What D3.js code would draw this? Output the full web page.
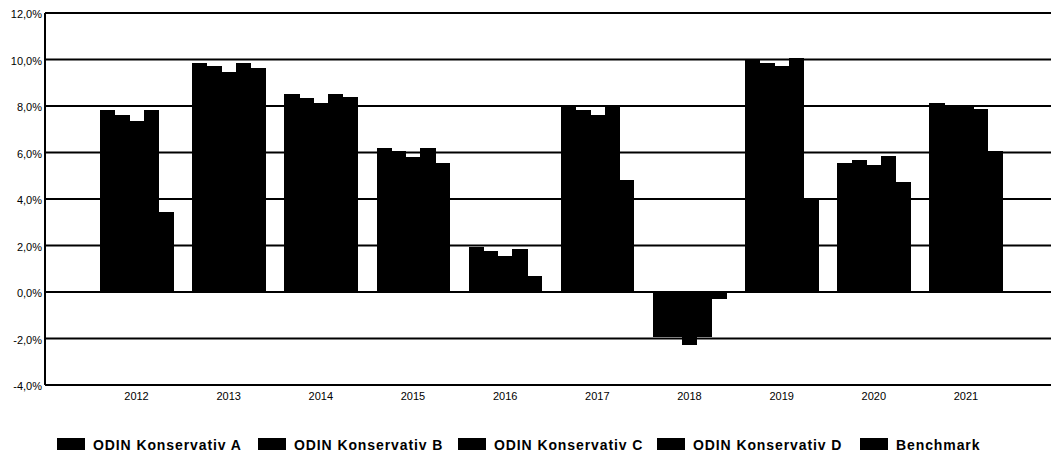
<html>
<head>
<meta charset="utf-8">
<script src="https://cdn.jsdelivr.net/npm/d3@7"></script>
<style>
  body { margin: 0; background: #fff; }
  svg { display: block; }
  text { font-family: "Liberation Sans", Arial, sans-serif; fill: #000; }
</style>
</head>
<body>
<svg id="chart" width="1051" height="453"></svg>
<script>
const years = ["2012", "2013", "2014", "2015", "2016", "2017", "2018", "2019", "2020", "2021"]
const seriesNames = ["ODIN Konservativ A", "ODIN Konservativ B", "ODIN Konservativ C", "ODIN Konservativ D", "Benchmark"]
const konsA = [7.83, 9.86, 8.52, 6.21, 1.95, 8.00, -1.92, 10.00, 5.53, 8.11]
const konsB = [7.61, 9.73, 8.33, 6.08, 1.75, 7.83, -1.95, 9.86, 5.66, 8.01]
const konsC = [7.37, 9.48, 8.13, 5.81, 1.53, 7.63, -2.28, 9.72, 5.45, 8.03]
const konsD = [7.83, 9.86, 8.52, 6.21, 1.86, 7.97, -1.92, 10.06, 5.86, 7.89]
const bench = [3.43, 9.65, 8.37, 5.53, 0.70, 4.83, -0.31, 3.99, 4.73, 6.08]
const yTicks = [-4, -2, 0, 2, 4, 6, 8, 10, 12]

const allSeries = [konsA, konsB, konsC, konsD, bench]

const svg = d3.select("#chart")
const LEFT = 45, RIGHT = 1057.5, TOP = 13, BOTTOM = 385

const x = d3.scaleBand()
    .domain(years)
    .range([LEFT, RIGHT])
    .paddingInner(0.208)
    .paddingOuter(0.597)
const xSub = d3.scaleBand()
    .domain(d3.range(seriesNames.length))
    .range([0, x.bandwidth()])
const y = d3.scaleLinear()
    .domain([-4, 12])
    .range([BOTTOM, TOP])

// gridlines
svg.append("g")
    .selectAll("line")
    .data(yTicks)
    .join("line")
    .attr("x1", LEFT)
    .attr("x2", RIGHT)
    .attr("y1", d => y(d))
    .attr("y2", d => y(d))
    .attr("stroke", "#000")
    .attr("stroke-width", 2)

// bars - no outline so neighbours merge into one block
const bars = []
years.forEach((yr, i) => {
    allSeries.forEach((s, j) => bars.push({year: yr, k: j, v: s[i]}))
})
svg.append("g")
    .attr("shape-rendering", "crispEdges")
    .selectAll("rect")
    .data(bars)
    .join("rect")
    .attr("x", d => x(d.year) + xSub(d.k))
    .attr("width", xSub.bandwidth() + 0.6)
    .attr("y", d => y(Math.max(0, d.v)))
    .attr("height", d => Math.abs(y(d.v) - y(0)))
    .attr("fill", "#000")

// left axis line
svg.append("line")
    .attr("x1", LEFT).attr("x2", LEFT)
    .attr("y1", TOP).attr("y2", BOTTOM)
    .attr("stroke", "#000")
    .attr("stroke-width", 2)

// y labels
svg.append("g")
    .selectAll("text")
    .data(yTicks)
    .join("text")
    .attr("x", 42)
    .attr("y", d => y(d) + 5)
    .attr("text-anchor", "end")
    .attr("font-size", 11)
    .text(d => d3.format(".1f")(d).replace(".", ",").replace("\u2212", "-") + "%")

// x labels
svg.append("g")
    .selectAll("text")
    .data(years)
    .join("text")
    .attr("x", d => x(d) + x.bandwidth() / 2)
    .attr("y", 400)
    .attr("text-anchor", "middle")
    .attr("font-size", 11)
    .text(d => d)

// legend
const legendX = [57, 258, 458, 657, 860]
const legend = svg.append("g")
    .selectAll("g")
    .data(seriesNames)
    .join("g")
    .attr("transform", (d, i) => `translate(${legendX[i]}, 438)`)
legend.append("rect")
    .attr("width", 28)
    .attr("height", 12)
    .attr("fill", "#000")
legend.append("text")
    .attr("x", 36)
    .attr("y", 12)
    .attr("font-size", 14)
    .attr("font-weight", "bold")
    .attr("letter-spacing", 0.9)
    .text(d => d)
</script>
</body>
</html>
